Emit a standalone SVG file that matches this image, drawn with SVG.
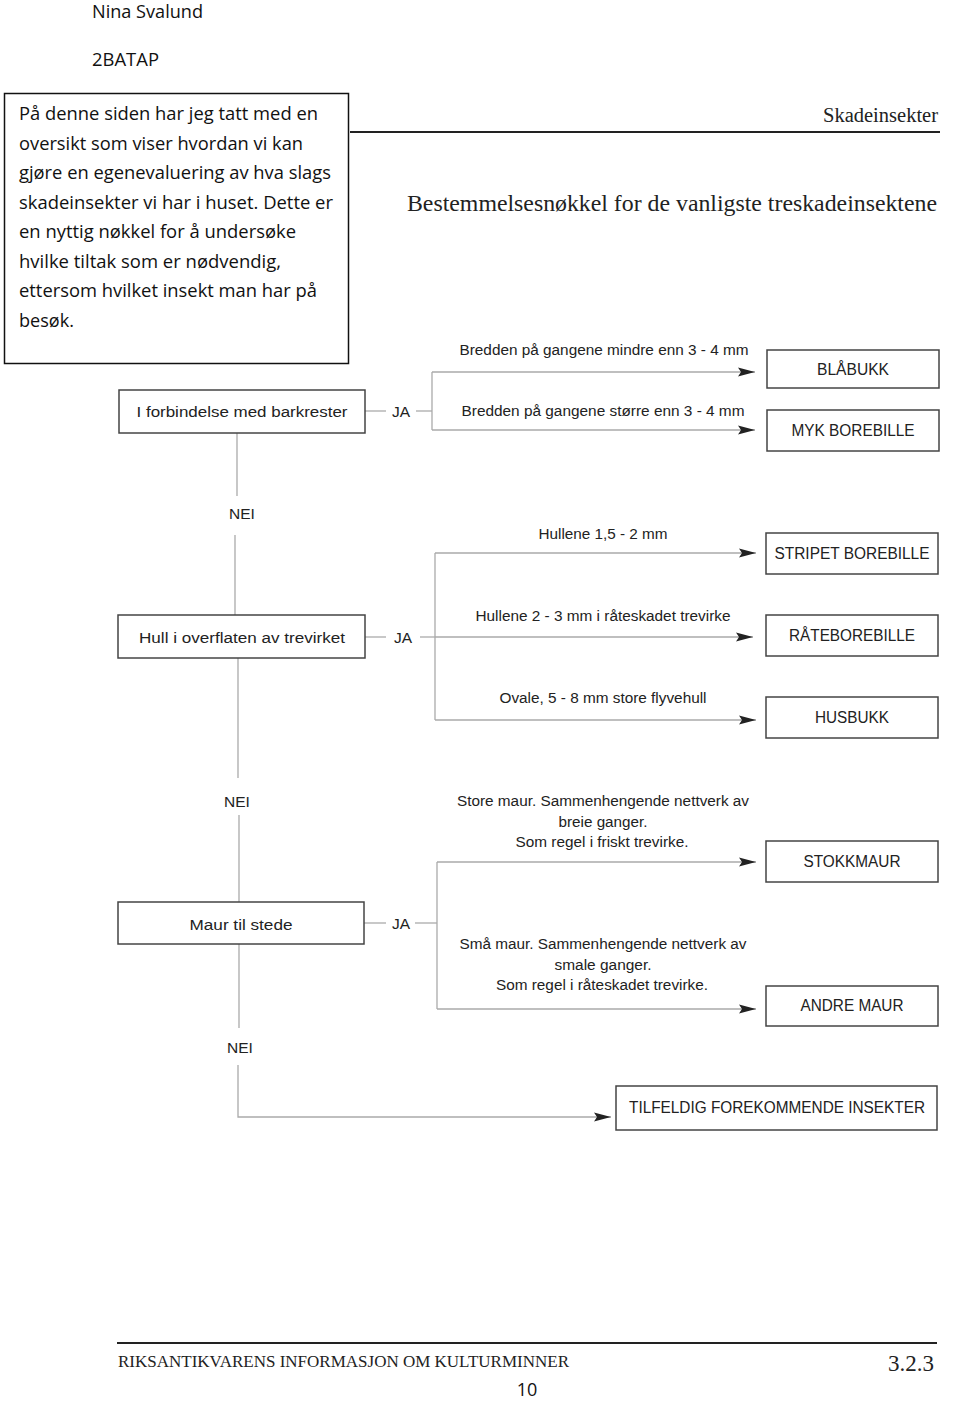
<svg xmlns="http://www.w3.org/2000/svg" width="960" height="1401" viewBox="0 0 960 1401">
<style>
.cal{font-family:"Open Sans","Liberation Sans",sans-serif;font-size:18px;fill:#111}
.ser{font-family:"Liberation Serif",serif;fill:#222}
.lab{font-family:"Liberation Sans",Arial,sans-serif;font-size:15.5px;fill:#222;text-anchor:middle}
.nd{font-size:16px}
.box{fill:#fff;stroke:#444;stroke-width:1.5}
.con{fill:none;stroke:#aaa;stroke-width:1.3}
</style>
<defs>
<marker id="arr" markerUnits="userSpaceOnUse" markerWidth="18" markerHeight="10" refX="17" refY="5" orient="auto">
<polygon points="0,0.6 17,5 0,9.4 3,5" fill="#222"/>
</marker>
</defs>
<rect width="960" height="1401" fill="#fff"/>

<g id="header">
<text class="cal" x="92" y="18" textLength="111" lengthAdjust="spacingAndGlyphs">Nina Svalund</text>
<text class="cal" x="92" y="66" textLength="67" lengthAdjust="spacingAndGlyphs">2BATAP</text>
</g>

<g id="note">
<rect x="4.5" y="93.5" width="344" height="270" fill="#fff" stroke="#111" stroke-width="1.5"/>
<text class="cal" x="19" y="120" textLength="299" lengthAdjust="spacingAndGlyphs">På denne siden har jeg tatt med en</text>
<text class="cal" x="19" y="150" textLength="284" lengthAdjust="spacingAndGlyphs">oversikt som viser hvordan vi kan</text>
<text class="cal" x="19" y="179" textLength="312" lengthAdjust="spacingAndGlyphs">gjøre en egenevaluering av hva slags</text>
<text class="cal" x="19" y="209" textLength="314" lengthAdjust="spacingAndGlyphs">skadeinsekter vi har i huset. Dette er</text>
<text class="cal" x="19" y="238" textLength="277" lengthAdjust="spacingAndGlyphs">en nyttig nøkkel for å undersøke</text>
<text class="cal" x="19" y="268" textLength="262" lengthAdjust="spacingAndGlyphs">hvilke tiltak som er nødvendig,</text>
<text class="cal" x="19" y="297" textLength="298" lengthAdjust="spacingAndGlyphs">ettersom hvilket insekt man har på</text>
<text class="cal" x="19" y="327" textLength="55" lengthAdjust="spacingAndGlyphs">besøk.</text>
</g>

<g id="page-head">
<line x1="350" y1="132" x2="940" y2="132" stroke="#222" stroke-width="2"/>
<text class="ser" x="938" y="122" font-size="20" text-anchor="end" textLength="115" lengthAdjust="spacingAndGlyphs">Skadeinsekter</text>
<text class="ser" x="407" y="211" font-size="23" textLength="530" lengthAdjust="spacingAndGlyphs">Bestemmelsesnøkkel for de vanligste treskadeinsektene</text>
</g>

<g id="connectors">
<line class="con" x1="365" y1="411" x2="386" y2="411"/>
<line class="con" x1="416" y1="411" x2="432" y2="411"/>
<polyline class="con" points="432,372 432,430"/>
<line class="con" x1="432" y1="372" x2="755" y2="372" marker-end="url(#arr)"/>
<line class="con" x1="432" y1="430" x2="755" y2="430" marker-end="url(#arr)"/>
<line class="con" x1="237" y1="433" x2="237" y2="496"/>
<line class="con" x1="235" y1="535" x2="235" y2="615"/>
<line class="con" x1="365" y1="637" x2="386" y2="637"/>
<line class="con" x1="420" y1="637" x2="435" y2="637"/>
<polyline class="con" points="435,553 435,720"/>
<line class="con" x1="435" y1="553" x2="756" y2="553" marker-end="url(#arr)"/>
<line class="con" x1="435" y1="637" x2="753" y2="637" marker-end="url(#arr)"/>
<line class="con" x1="435" y1="720" x2="756" y2="720" marker-end="url(#arr)"/>
<line class="con" x1="238" y1="658" x2="238" y2="778"/>
<line class="con" x1="239" y1="815" x2="239" y2="902"/>
<line class="con" x1="364" y1="923" x2="386" y2="923"/>
<line class="con" x1="415" y1="923" x2="437" y2="923"/>
<polyline class="con" points="437,862 437,1009"/>
<line class="con" x1="437" y1="862" x2="756" y2="862" marker-end="url(#arr)"/>
<line class="con" x1="437" y1="1009" x2="756" y2="1009" marker-end="url(#arr)"/>
<line class="con" x1="239" y1="944" x2="239" y2="1028"/>
<polyline class="con" points="238,1065 238,1117 611,1117" marker-end="url(#arr)"/>
</g>

<g id="q-barkrester">
<rect class="box" x="119" y="390" width="246" height="43"/>
<text class="lab" x="242" y="417" font-size="18" textLength="211" lengthAdjust="spacingAndGlyphs">I forbindelse med barkrester</text>
<text class="lab" x="401" y="417" font-size="17">JA</text>
<text class="lab" x="242" y="519" font-size="17">NEI</text>
</g>

<g id="lab-bredden">
<text class="lab" x="604" y="355" textLength="289" lengthAdjust="spacingAndGlyphs">Bredden på gangene mindre enn 3 - 4 mm</text>
<text class="lab" x="603" y="416" textLength="283" lengthAdjust="spacingAndGlyphs">Bredden på gangene større enn 3 - 4 mm</text>
</g>

<g id="n-blabukk">
<rect class="box" x="767" y="350" width="172" height="38"/>
<text class="lab nd" x="853" y="375" textLength="72" lengthAdjust="spacingAndGlyphs">BLÅBUKK</text>
</g>
<g id="n-myk">
<rect class="box" x="767" y="410" width="172" height="41"/>
<text class="lab nd" x="853" y="436" textLength="123" lengthAdjust="spacingAndGlyphs">MYK BOREBILLE</text>
</g>

<g id="q-hull">
<rect class="box" x="118" y="615" width="247" height="43"/>
<text class="lab" x="242" y="643" font-size="18" textLength="206" lengthAdjust="spacingAndGlyphs">Hull i overflaten av trevirket</text>
<text class="lab" x="403" y="643" font-size="17">JA</text>
<text class="lab" x="237" y="807" font-size="17">NEI</text>
</g>

<g id="lab-hull">
<text class="lab" x="603" y="539" textLength="129" lengthAdjust="spacingAndGlyphs">Hullene 1,5 - 2 mm</text>
<text class="lab" x="603" y="621" textLength="255" lengthAdjust="spacingAndGlyphs">Hullene 2 - 3 mm i råteskadet trevirke</text>
<text class="lab" x="603" y="703" textLength="207" lengthAdjust="spacingAndGlyphs">Ovale, 5 - 8 mm store flyvehull</text>
</g>

<g id="n-stripet">
<rect class="box" x="766" y="533" width="172" height="41"/>
<text class="lab nd" x="852" y="559" textLength="155" lengthAdjust="spacingAndGlyphs">STRIPET BOREBILLE</text>
</g>
<g id="n-rate">
<rect class="box" x="766" y="615" width="172" height="41"/>
<text class="lab nd" x="852" y="641" textLength="126" lengthAdjust="spacingAndGlyphs">RÅTEBOREBILLE</text>
</g>
<g id="n-husbukk">
<rect class="box" x="766" y="697" width="172" height="41"/>
<text class="lab nd" x="852" y="723" textLength="74" lengthAdjust="spacingAndGlyphs">HUSBUKK</text>
</g>

<g id="q-maur">
<rect class="box" x="118" y="902" width="246" height="42"/>
<text class="lab" x="241" y="930" font-size="18" textLength="103" lengthAdjust="spacingAndGlyphs">Maur til stede</text>
<text class="lab" x="401" y="929" font-size="17">JA</text>
<text class="lab" x="240" y="1053" font-size="17">NEI</text>
</g>

<g id="lab-maur">
<text class="lab" x="603" y="806" textLength="292" lengthAdjust="spacingAndGlyphs">Store maur. Sammenhengende nettverk av</text>
<text class="lab" x="603" y="827" textLength="89" lengthAdjust="spacingAndGlyphs">breie ganger.</text>
<text class="lab" x="602" y="847" textLength="173" lengthAdjust="spacingAndGlyphs">Som regel i friskt trevirke.</text>
<text class="lab" x="603" y="949" textLength="287" lengthAdjust="spacingAndGlyphs">Små maur. Sammenhengende nettverk av</text>
<text class="lab" x="603" y="970" textLength="97" lengthAdjust="spacingAndGlyphs">smale ganger.</text>
<text class="lab" x="602" y="990" textLength="212" lengthAdjust="spacingAndGlyphs">Som regel i råteskadet trevirke.</text>
</g>

<g id="n-stokkmaur">
<rect class="box" x="766" y="841" width="172" height="41"/>
<text class="lab nd" x="852" y="867" textLength="97" lengthAdjust="spacingAndGlyphs">STOKKMAUR</text>
</g>
<g id="n-andre">
<rect class="box" x="766" y="986" width="172" height="40"/>
<text class="lab nd" x="852" y="1011" textLength="103" lengthAdjust="spacingAndGlyphs">ANDRE MAUR</text>
</g>

<g id="n-tilfeldig">
<rect class="box" x="616" y="1086" width="321" height="44"/>
<text class="lab nd" x="777" y="1113" textLength="296" lengthAdjust="spacingAndGlyphs">TILFELDIG FOREKOMMENDE INSEKTER</text>
</g>

<g id="footer">
<line x1="117" y1="1343" x2="937" y2="1343" stroke="#222" stroke-width="2"/>
<text class="ser" x="118" y="1367" font-size="17" textLength="451" lengthAdjust="spacingAndGlyphs">RIKSANTIKVARENS INFORMASJON OM KULTURMINNER</text>
<text class="ser" x="934" y="1371" font-size="23" text-anchor="end" textLength="46" lengthAdjust="spacingAndGlyphs">3.2.3</text>
<text class="cal" x="527" y="1396" font-size="16" text-anchor="middle">10</text>
</g>
</svg>
